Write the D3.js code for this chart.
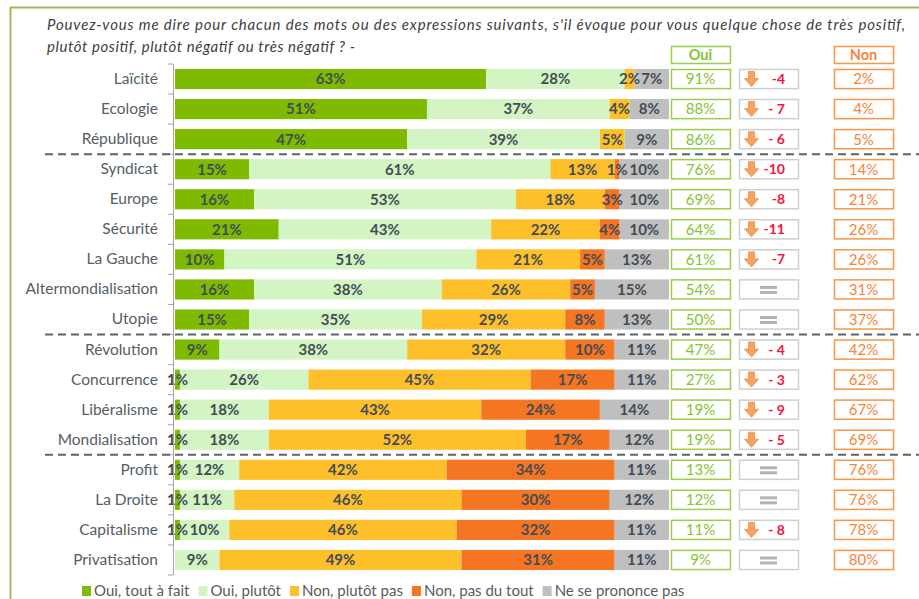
<!DOCTYPE html>
<html>
<head>
<meta charset="utf-8">
<script src="https://cdn.jsdelivr.net/npm/d3@7"></script>
<style>
	body { margin: 0; background: #fff; }
	svg { display: block; font-family: Lato, "Open Sans", sans-serif; }
</style>
</head>
<body>
<svg id="chart" width="919" height="599"></svg>
<script>

// values, one entry per word
var words = ['Laïcité', 'Ecologie', 'République', 'Syndicat', 'Europe', 'Sécurité', 'La Gauche',
	'Altermondialisation', 'Utopie', 'Révolution', 'Concurrence', 'Libéralisme', 'Mondialisation',
	'Profit', 'La Droite', 'Capitalisme', 'Privatisation'];

var toutAFait = [63, 51, 47, 15, 16, 21, 10, 16, 15, 9, 1, 1, 1, 1, 1, 1, 0];
var plutot    = [28, 37, 39, 61, 53, 43, 51, 38, 35, 38, 26, 18, 18, 12, 11, 10, 9];
var plutotPas = [2, 4, 5, 13, 18, 22, 21, 26, 29, 32, 45, 43, 52, 42, 46, 46, 49];
var pasDuTout = [0, 0, 0, 1, 3, 4, 5, 5, 8, 10, 17, 24, 17, 34, 30, 32, 31];
var nsp       = [7, 8, 9, 10, 10, 10, 13, 15, 13, 11, 11, 14, 12, 11, 12, 11, 11];

var ouiTotal = [91, 88, 86, 76, 69, 64, 61, 54, 50, 47, 27, 19, 19, 13, 12, 11, 9];
var nonTotal = [2, 4, 5, 14, 21, 26, 26, 31, 37, 42, 62, 67, 69, 76, 76, 78, 80];

// '=' means no change
var evolutionLabels = ['-4', '- 7', '- 6', '-10', '-8', '-11', '-7', '=', '=', '- 4', '- 3', '- 9', '- 5', '=', '=', '- 8', '='];

var seriesNames = ['Oui, tout à fait', 'Oui, plutôt', 'Non, plutôt pas', 'Non, pas du tout', 'Ne se prononce pas'];
var seriesColors = ['#7ebb00', '#d3f4c3', '#fdc02b', '#f47522', '#bfbfbf'];

// last word of each block, a dashed line is drawn under it
var groupEnds = ['République', 'Utopie', 'Mondialisation'];

var titleLines = [
	"Pouvez-vous me dire pour chacun des mots ou des expressions suivants, s'il évoque pour vous quelque chose de très positif,",
	"plutôt positif, plutôt négatif ou très négatif ? -"
];


var svg = d3.select('#chart');

var labelColor = '#555d66';
var valueColor = '#434c56';
var greenText = '#86c232';
var greenBox = '#9acd4a';
var orangeText = '#f5853a';
var orangeBox = '#f79646';

var y = d3.scaleBand()
	.domain(words)
	.range([64, 575])
	.paddingInner(0.33)
	.paddingOuter(0.165);

var x = d3.scaleLinear()
	.domain([0, 100])
	.range([175, 669]);

var halfGap = (y.step() - y.bandwidth()) / 2;

var colOui = 671, colEvo = 739, colNon = 834, colWidth = 59;


function drawFrame() {
	svg.append('line')
		.attr('x1', 10).attr('x2', 919)
		.attr('y1', 7.5).attr('y2', 7.5)
		.style('stroke', '#9bbb59').style('stroke-width', 2);

	svg.append('line')
		.attr('x1', 10.5).attr('x2', 10.5)
		.attr('y1', 7).attr('y2', 599)
		.style('stroke', '#9bbb59').style('stroke-width', 2);
}


function drawTitle() {
	var title = svg.append('g').attr('class', 'title');

	title.append('text')
		.attr('x', 47).attr('y', 30)
		.attr('textLength', 858)
		.attr('lengthAdjust', 'spacing')
		.text(titleLines[0]);

	title.append('text')
		.attr('x', 47).attr('y', 52)
		.attr('textLength', 308)
		.attr('lengthAdjust', 'spacing')
		.text(titleLines[1]);

	title.selectAll('text')
		.style('font-size', '15px')
		.style('font-style', 'italic')
		.style('fill', '#404040');
}


function drawBars() {

	var rows = words.map(function(w, i) {
		return {word: w, s0: toutAFait[i], s1: plutot[i], s2: plutotPas[i], s3: pasDuTout[i], s4: nsp[i]};
	});

	var stacked = d3.stack().keys(['s0', 's1', 's2', 's3', 's4'])(rows);

	var layers = svg.append('g').attr('class', 'bars')
		.selectAll('g')
		.data(stacked)
		.join('g')
		.style('fill', function(d, i) { return seriesColors[i]; });

	layers.selectAll('rect')
		.data(function(d) { return d; })
		.join('rect')
		.attr('x', function(d) { return x(d[0]); })
		.attr('y', function(d) { return y(d.data.word); })
		.attr('width', function(d) { return x(d[1]) - x(d[0]); })
		.attr('height', y.bandwidth());

	// the percentages, centred in each piece, nothing for a zero
	var labels = svg.append('g').attr('class', 'bar-labels');
	stacked.forEach(function(layer) {
		labels.selectAll(null)
			.data(layer.filter(function(d) { return d[1] - d[0] > 0; }))
			.join('text')
			.attr('x', function(d) { return (x(d[0]) + x(d[1])) / 2; })
			.attr('y', function(d) { return y(d.data.word) + y.bandwidth() / 2; })
			.attr('dy', '0.36em')
			.attr('text-anchor', 'middle')
			.style('font-size', '15px')
			.style('font-weight', 'bold')
			.style('fill', valueColor)
			.text(function(d) { return (d[1] - d[0]) + '%'; });
	});
}


function drawAxis() {
	var axis = svg.append('g')
		.attr('transform', 'translate(173,0)')
		.call(d3.axisLeft(y).tickSize(0).tickPadding(15));

	axis.select('.domain').remove();
	axis.selectAll('text')
		.style('font-family', 'Lato, "Open Sans", sans-serif')
		.style('font-size', '15.5px')
		.style('fill', labelColor);

	// band borders as small ticks on the left
	var borders = words.map(function(w) { return y(w) - halfGap; });
	borders.push(y(words[words.length - 1]) + y.bandwidth() + halfGap);

	svg.append('line')
		.attr('x1', 173.5).attr('x2', 173.5)
		.attr('y1', borders[0]).attr('y2', borders[borders.length - 1])
		.style('stroke', '#a6a6a6').style('stroke-width', 1);

	svg.append('g').selectAll('line')
		.data(borders)
		.join('line')
		.attr('x1', 168).attr('x2', 173)
		.attr('y1', function(d) { return d; })
		.attr('y2', function(d) { return d; })
		.style('stroke', '#a6a6a6').style('stroke-width', 1);
}


function drawSeparators() {
	svg.append('g').selectAll('line')
		.data(groupEnds)
		.join('line')
		.attr('x1', 45).attr('x2', 919)
		.attr('y1', function(d) { return y(d) + y.bandwidth() + halfGap; })
		.attr('y2', function(d) { return y(d) + y.bandwidth() + halfGap; })
		.style('stroke', '#5a6470')
		.style('stroke-width', 2)
		.style('stroke-dasharray', '8,5');
}


function drawBoxColumn(colX, values, stroke, color, header) {
	var g = svg.append('g');
	var boxH = y.bandwidth() - 1;

	g.selectAll('rect')
		.data(words)
		.join('rect')
		.attr('x', colX + 0.5)
		.attr('y', function(d) { return y(d) + 0.5; })
		.attr('width', colWidth)
		.attr('height', boxH)
		.style('fill', '#fff')
		.style('stroke', stroke)
		.style('stroke-width', 1.5);

	g.selectAll('text')
		.data(words)
		.join('text')
		.attr('x', colX + colWidth / 2)
		.attr('y', function(d) { return y(d) + y.bandwidth() / 2; })
		.attr('dy', '0.36em')
		.attr('text-anchor', 'middle')
		.style('font-size', '15px')
		.style('fill', color)
		.text(function(d, i) { return values[i] + '%'; });

	if (header) {
		g.append('rect')
			.attr('x', colX + 0.5).attr('y', 46.5)
			.attr('width', colWidth).attr('height', 17)
			.style('fill', '#fff')
			.style('stroke', stroke)
			.style('stroke-width', 1.5);

		g.append('text')
			.attr('x', colX + colWidth / 2).attr('y', 55)
			.attr('dy', '0.36em')
			.attr('text-anchor', 'middle')
			.style('font-size', '14.5px')
			.style('font-weight', 'bold')
			.style('fill', color)
			.text(header);
	}
}


function drawEvolution() {
	var g = svg.append('g');

	var cells = g.selectAll('g')
		.data(words)
		.join('g')
		.attr('transform', function(d) { return 'translate(' + colEvo + ',' + y(d) + ')'; });

	cells.append('rect')
		.attr('x', 0.5).attr('y', 0.5)
		.attr('width', colWidth).attr('height', y.bandwidth() - 1)
		.style('fill', '#fff')
		.style('stroke', '#cfcfcf')
		.style('stroke-width', 1.5);

	var mid = y.bandwidth() / 2;

	// down arrow then the drop in points
	var falling = cells.filter(function(d, i) { return evolutionLabels[i] !== '='; });

	falling.append('path')
		.attr('d', 'M9.5,' + (mid - 7.5) + 'h6v7h4l-7,8l-7,-8h4z')
		.style('fill', '#f5a262')
		.style('stroke', '#ec8c40')
		.style('stroke-width', 0.8)
		.style('stroke-linejoin', 'round');

	falling.append('text')
		.attr('x', 46)
		.attr('y', mid)
		.attr('dy', '0.36em')
		.attr('text-anchor', 'end')
		.style('font-size', '14px')
		.style('font-weight', 'bold')
		.style('fill', '#f5143c')
		.text(function(d) { return evolutionLabels[words.indexOf(d)]; });

	// equal sign for no change
	var flat = cells.filter(function(d, i) { return evolutionLabels[i] === '='; });
	[-3.5, 1.5].forEach(function(off) {
		flat.append('rect')
			.attr('x', 21).attr('y', mid + off)
			.attr('width', 17).attr('height', 3)
			.style('fill', '#b3b3b3');
	});
}


function drawLegend() {
	var legend = svg.append('g').attr('transform', 'translate(82,0)');
	var pos = 0;

	seriesNames.forEach(function(name, i) {
		var item = legend.append('g').attr('transform', 'translate(' + pos + ',0)');

		item.append('rect')
			.attr('x', 0).attr('y', 586)
			.attr('width', 9).attr('height', 10)
			.style('fill', seriesColors[i]);

		var t = item.append('text')
			.attr('x', 12).attr('y', 596)
			.style('font-size', '15px')
			.style('fill', labelColor)
			.text(name);

		pos += 12 + t.node().getComputedTextLength() + 9;
	});
}


drawFrame();
drawTitle();
drawBars();
drawAxis();
drawSeparators();
drawBoxColumn(colOui, ouiTotal, greenBox, greenText, 'Oui');
drawEvolution();
drawBoxColumn(colNon, nonTotal, orangeBox, orangeText, 'Non');
drawLegend();

</script>
</body>
</html>
